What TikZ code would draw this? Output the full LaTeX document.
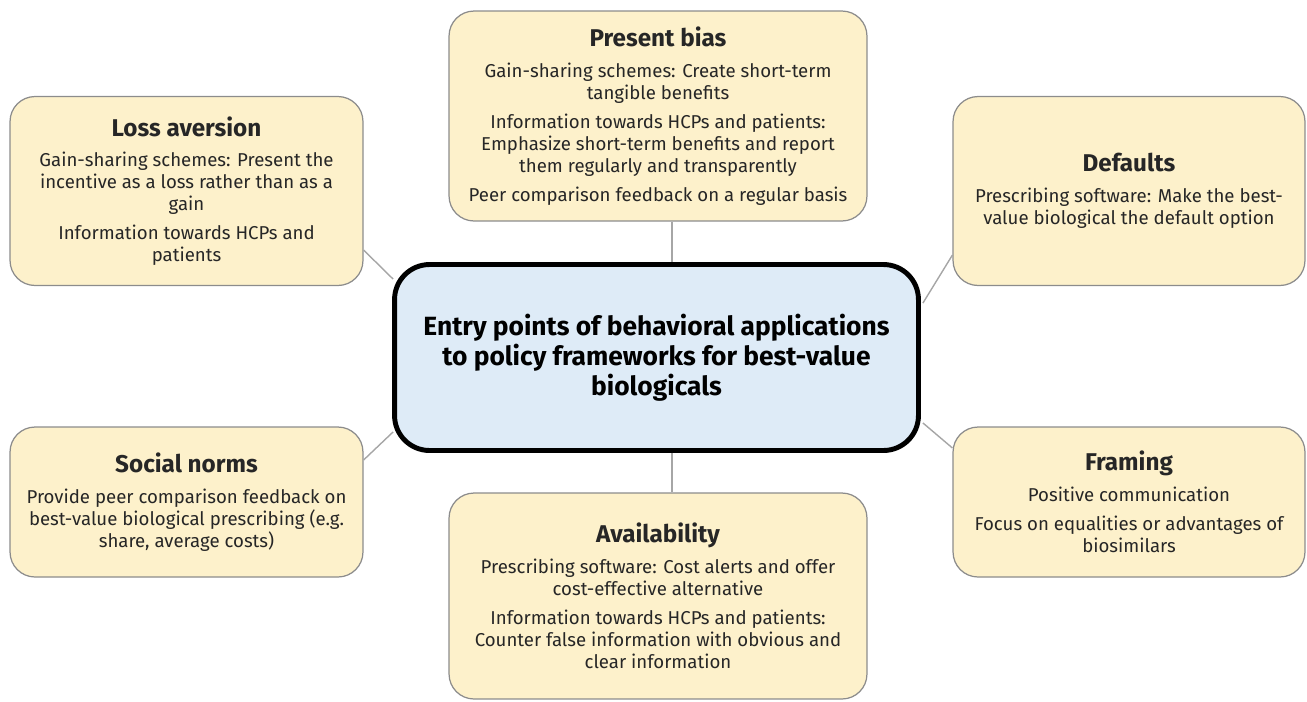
\documentclass[tikz,border=0pt]{standalone}
\usepackage{fontspec}
\setmainfont{Fira Sans}
\usetikzlibrary{calc}
\definecolor{boxfill}{HTML}{FDF1CB}
\definecolor{boxline}{HTML}{8C8C8C}
\definecolor{cfill}{HTML}{DEEBF7}
\definecolor{connc}{HTML}{A6A6A6}
\tikzset{
  topic/.style={draw=boxline, line width=0.7pt, fill=boxfill, rounded corners=0.5cm,
    align=center, inner sep=0pt, text=black!85, font=\fontsize{10.6}{12.5}\selectfont},
  hub/.style={draw=black, line width=2.8pt, fill=cfill, rounded corners=0.7cm,
    align=center, inner sep=0pt, font=\fontsize{15}{17.2}\selectfont\bfseries},
  link/.style={draw=connc, line width=0.8pt},
}
\newcommand{\hd}[1]{{\fontsize{13.8}{15}\selectfont\bfseries #1}\\[5pt]}
\begin{document}
\begin{tikzpicture}[x=0.02cm,y=-0.02cm]
\useasboundingbox (0,0) rectangle (1307,701);
\node[hub, minimum width=10.48cm, minimum height=3.72cm] (central) at (656.5,357.5)
  {Entry points of behavioral applications\\to policy frameworks for best-value\\biologicals};
\node[topic, minimum width=7.06cm, minimum height=3.78cm] (loss) at (186.5,191)
  {\hd{Loss aversion}Gain-sharing schemes: Present the\\incentive as a loss rather than as a\\gain\\[4pt]Information towards HCPs and\\patients};
\node[topic, minimum width=8.36cm, minimum height=4.2cm] (present) at (658,116)
  {\hd{Present bias}Gain-sharing schemes: Create short-term\\tangible benefits\\[4pt]Information towards HCPs and patients:\\Emphasize short-term benefits and report\\them regularly and transparently\\[4pt]Peer comparison feedback on a regular basis};
\node[topic, minimum width=7.04cm, minimum height=3.78cm] (defaults) at (1129,191)
  {\hd{Defaults}Prescribing software: Make the best-\\value biological the default option};
\node[topic, minimum width=7.06cm, minimum height=3.0cm] (social) at (186.5,502)
  {\hd{Social norms}Provide peer comparison feedback on\\best-value biological prescribing (e.g.\\share, average costs)};
\node[topic, minimum width=7.04cm, minimum height=3.0cm] (framing) at (1129,502)
  {\hd{Framing}Positive communication\\[4pt]Focus on equalities or advantages of\\biosimilars};
\node[topic, minimum width=8.36cm, minimum height=4.12cm] (avail) at (658,596)
  {\hd{Availability}Prescribing software: Cost alerts and offer\\cost-effective alternative\\[4pt]Information towards HCPs and patients:\\Counter false information with obvious and\\clear information};
\coordinate (vx) at (672,0);
\draw[link] ($(loss.east)+(0,59)$) -- ($(central.north west)+(1,17)$);
\draw[link] ($(defaults.west)+(0,64)$) -- ($(central.north east)+(2,41)$);
\draw[link] (present.south -| vx) -- (central.north -| vx);
\draw[link] (central.south -| vx) -- (avail.north -| vx);
\draw[link] ($(central.south west)+(1,-21)$) -- ($(social.east)+(0,-42)$);
\draw[link] ($(central.south east)+(2,-30)$) -- ($(framing.west)+(0,-54)$);
\end{tikzpicture}
\end{document}
